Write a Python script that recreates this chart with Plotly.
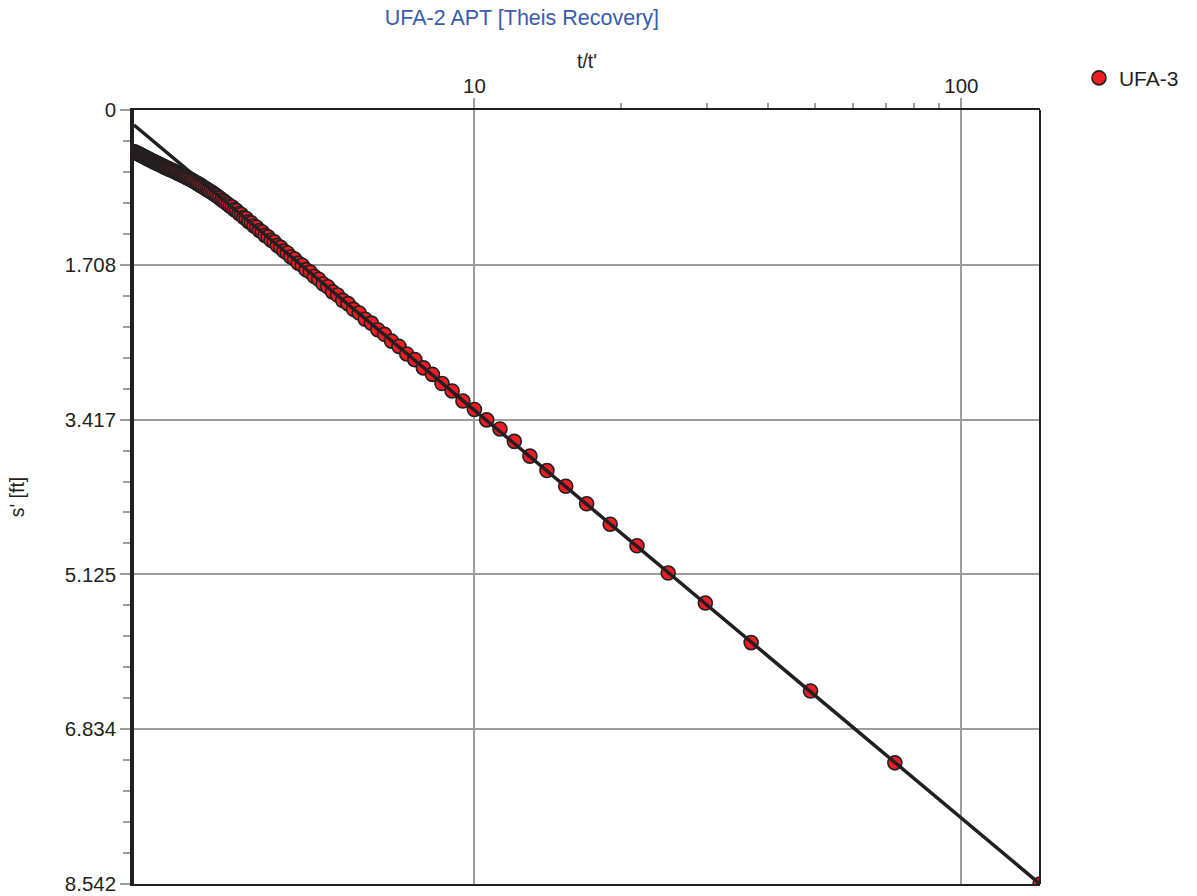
import math
import plotly.graph_objects as go

# Theis recovery data for observation well UFA-3 (listed from early to late recovery)
t_ratio = [
    145, 73, 49, 37, 29.8, 25, 21.571, 19, 17, 15.4, 14.091, 13, 12.077, 11.286, 10.6, 10,
    9.471, 9, 8.579, 8.2, 7.857, 7.545, 7.261, 7, 6.76, 6.538, 6.333, 6.143, 5.966, 5.8,
    5.645, 5.5, 5.364, 5.235, 5.114, 5, 4.892, 4.789, 4.692, 4.6, 4.512, 4.429, 4.349,
    4.273, 4.2, 4.13, 4.064, 4, 3.939, 3.88, 3.824, 3.769, 3.717, 3.667, 3.618, 3.571,
    3.526, 3.483, 3.441, 3.4, 3.361, 3.323, 3.286, 3.25, 3.215, 3.182, 3.149, 3.118,
    3.087, 3.057, 3.028, 3, 2.973, 2.946, 2.92, 2.895, 2.87, 2.846, 2.823, 2.8, 2.778,
    2.756, 2.735, 2.714, 2.694, 2.674, 2.655, 2.636, 2.618, 2.6, 2.582, 2.565, 2.548,
    2.532, 2.516, 2.5, 2.485, 2.469, 2.455, 2.44, 2.426, 2.412, 2.398, 2.385, 2.371,
    2.358, 2.346, 2.333, 2.321, 2.309, 2.297, 2.286, 2.274, 2.263, 2.252, 2.241, 2.231,
    2.22, 2.21, 2.2, 2.19, 2.18, 2.171, 2.161, 2.152, 2.143, 2.134, 2.125, 2.116, 2.108,
    2.099, 2.091, 2.083, 2.075, 2.067, 2.059, 2.051, 2.043, 2.036, 2.029, 2.021, 2.014,
    2.007, 2,
]
residual_drawdown = [
    8.542, 7.205, 6.412, 5.878, 5.441, 5.110, 4.809, 4.571, 4.346, 4.152, 3.979, 3.820,
    3.657, 3.520, 3.420, 3.305, 3.212, 3.101, 3.019, 2.918, 2.846, 2.755, 2.692, 2.609,
    2.551, 2.476, 2.425, 2.352, 2.309, 2.241, 2.200, 2.137, 2.101, 2.042, 2.007, 1.951,
    1.920, 1.868, 1.838, 1.789, 1.762, 1.714, 1.690, 1.645, 1.622, 1.578, 1.557, 1.516,
    1.496, 1.455, 1.438, 1.400, 1.384, 1.346, 1.331, 1.294, 1.281, 1.246, 1.233, 1.198,
    1.187, 1.154, 1.143, 1.111, 1.100, 1.071, 1.062, 1.041, 1.024, 1.005, 0.990, 0.972,
    0.958, 0.941, 0.928, 0.913, 0.900, 0.889, 0.876, 0.864, 0.852, 0.840, 0.829, 0.818,
    0.808, 0.798, 0.789, 0.779, 0.770, 0.761, 0.752, 0.744, 0.736, 0.729, 0.722, 0.714,
    0.708, 0.700, 0.694, 0.687, 0.681, 0.674, 0.668, 0.662, 0.656, 0.650, 0.645, 0.639,
    0.634, 0.628, 0.622, 0.616, 0.610, 0.605, 0.599, 0.593, 0.589, 0.583, 0.578, 0.573,
    0.568, 0.564, 0.558, 0.552, 0.547, 0.542, 0.537, 0.532, 0.526, 0.522, 0.516, 0.512,
    0.507, 0.503, 0.498, 0.494, 0.489, 0.485, 0.481, 0.477, 0.472, 0.469, 0.465, 0.461,
]

# Straight-line Theis recovery fit (end points)
fit_t_ratio = [2, 145]
fit_drawdown = [0.166, 8.542]

# Axis ticks
y_tick_vals = [0, 1.7084, 3.4168, 5.1252, 6.8336, 8.542]
y_tick_text = ["0", "1.708", "3.417", "5.125", "6.834", "8.542"]
x_tick_vals = [10, 100]
x_tick_text = ["10", "100"]
x_minor_vals = [20, 30, 40, 50, 60, 70, 80, 90]

FONT = "Liberation Sans, Arial, sans-serif"
INK = "#231F20"
GRID = "#9D9D9D"

fig = go.Figure()

# markers drawn from late to early recovery so the early points sit on top
fig.add_trace(go.Scatter(
    x=t_ratio[::-1], y=residual_drawdown[::-1], mode="markers", name="UFA-3",
    marker=dict(size=14, color="#EE1C24", line=dict(color=INK, width=1.6)),
))
fig.add_trace(go.Scatter(
    x=fit_t_ratio, y=fit_drawdown, mode="lines", showlegend=False,
    line=dict(color=INK, width=3.5),
))

fig.update_layout(
    width=1197, height=896,
    margin=dict(l=134, r=157, t=110, b=12),
    paper_bgcolor="white", plot_bgcolor="white",
    font=dict(family=FONT, size=20.5, color=INK),
    title=dict(text="UFA-2 APT [Theis Recovery]", x=0.436, xref="container",
               xanchor="center", y=0.98, yref="container", yanchor="middle",
               font=dict(family=FONT, size=21.5, color="#3A5BAF")),
    legend=dict(x=1.043, y=1.041, xanchor="left", yanchor="middle",
                font=dict(family=FONT, size=21, color=INK),
                bgcolor="rgba(0,0,0,0)"),
    xaxis=dict(
        type="log", side="top", automargin=False,
        range=[math.log10(min(t_ratio)), math.log10(max(t_ratio))],
        tickmode="array", tickvals=x_tick_vals, ticktext=x_tick_text,
        ticks="outside", ticklen=10, tickwidth=2, tickcolor=GRID,
        ticklabelstandoff=-3,
        showgrid=True, gridcolor=GRID, gridwidth=2,
        minor=dict(tickmode="array", tickvals=x_minor_vals, ticks="outside",
                   ticklen=5, tickwidth=1.5, tickcolor=GRID, showgrid=False),
        showline=True, linecolor=INK, linewidth=2, mirror=True,
        zeroline=False,
        title=dict(text="t/t'", standoff=0, font=dict(family=FONT, size=19.5)),
    ),
    yaxis=dict(
        range=[max(residual_drawdown), 0], automargin=False,
        tickmode="array", tickvals=y_tick_vals, ticktext=y_tick_text,
        ticks="outside", ticklen=10, tickwidth=2, tickcolor=GRID,
        showgrid=True, gridcolor=GRID, gridwidth=2,
        minor=dict(tick0=0, dtick=0.34168, ticks="outside", ticklen=7,
                   tickwidth=1.5, tickcolor=GRID, showgrid=False),
        showline=True, linecolor=INK, linewidth=3.5, mirror=False,
        zeroline=False,
        title=dict(text="s' [ft]", standoff=36, font=dict(family=FONT, size=19.5)),
    ),
    shapes=[dict(type="line", xref="paper", yref="paper", x0=1, x1=1, y0=0, y1=1,
                 line=dict(color=INK, width=2), layer="above")],
)

fig.write_html("out.html")
